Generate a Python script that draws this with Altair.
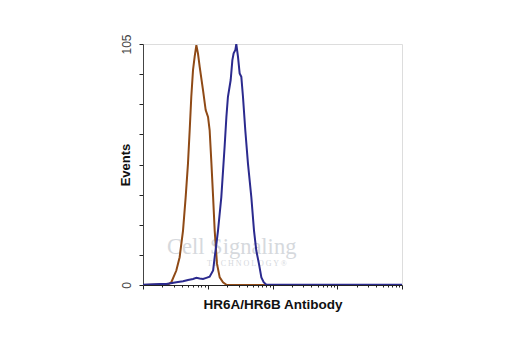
import altair as alt
import pandas as pd

# Isotype control (red/brown) histogram: fluorescence intensity vs events
red_x = [1.0, 2.0, 2.43, 2.74, 3.27, 3.68, 4.15, 4.56, 4.95, 5.26, 5.57, 5.92, 6.28, 6.67,
         7.06, 7.50, 8.45, 9.29, 10.1, 10.7, 11.4, 12.1, 12.8, 13.9, 15.3, 17.2, 19.4, 30.0, 10000.0]
red_y = [0.0, 0.2, 0.2, 1.2, 6.3, 12.1, 23.7, 38.3, 52.9, 67.4, 82.0, 93.6, 99.5, 104.5,
         100.9, 95.1, 84.9, 76.2, 73.2, 67.4, 52.9, 38.3, 23.7, 9.2, 3.3, 1.2, 0.1, 0.0, 0.0]

# HR6A/HR6B antibody (blue) histogram
blue_x = [1.0, 1.81, 2.29, 3.27, 4.15, 4.95, 5.92, 6.67, 7.50, 8.45, 9.51, 10.7, 12.1, 12.8,
          13.6, 14.4, 16.2, 18.2, 19.4, 20.5, 22.6, 24.0, 25.1, 26.7, 27.6, 29.3, 31.1, 33.0,
          35.0, 38.0, 41.8, 47.1, 51.8, 56.2, 61.8, 67.3, 73.1, 80.3, 10000.0]
blue_y = [0.1, 0.4, 0.4, 1.2, 1.6, 2.2, 2.6, 3.1, 2.8, 2.6, 3.1, 3.6, 6.3, 12.1,
          17.9, 23.7, 38.3, 60.1, 73.2, 82.0, 89.3, 98.0, 100.9, 102.4, 105.0, 99.5, 92.2, 90.7,
          82.0, 67.4, 52.9, 38.3, 23.7, 15.0, 9.2, 3.3, 1.2, 0.1, 0.1]

y_ticks = [0, 13.125, 26.25, 39.375, 52.5, 65.625, 78.75, 91.875, 105]
x_ticks = [m * d for d in [1, 10, 100, 1000] for m in range(1, 10)] + [10000]

series_names = ["Isotype", "HR6A/HR6B"]
series_colors = ["#8f4a16", "#2b2a8e"]

df = pd.concat([
    pd.DataFrame({"x": red_x, "y": red_y, "s": series_names[0], "o": 0}),
    pd.DataFrame({"x": blue_x, "y": blue_y, "s": series_names[1], "o": 1}),
])

FONT = "Liberation Sans"

x_enc = alt.X(
    "x:Q",
    scale=alt.Scale(type="log", domain=[1, 10000], nice=False),
    axis=alt.Axis(
        values=x_ticks, labels=False, grid=False,
        tickSize={"condition": {"test": "indexof([1,10,100,1000,10000], datum.value) >= 0", "value": 4}, "value": 2},
        tickColor="#222", domainColor="#222", tickWidth=1,
        title="HR6A/HR6B Antibody", titleFont=FONT, titleFontSize=13.5, titleFontWeight="bold",
        titleColor="#111", titleX=129.5, titleY=23, titleBaseline="alphabetic", titleAlign="center",
    ),
)
y_enc = alt.Y(
    "y:Q",
    scale=alt.Scale(domain=[0, 105], nice=False, zero=True),
    axis=alt.Axis(
        values=y_ticks, grid=False, tickSize=4, tickColor="#222", domainColor="#444",
        labelExpr="datum.value == 0 || datum.value == 105 ? datum.label : ''",
        labelAngle=270, labelAlign="center", labelBaseline="alphabetic", labelPadding=9,
        labelFont=FONT, labelFontSize=12, labelColor="#444",
        title="Events", titleFont=FONT, titleFontSize=13, titleFontWeight="bold", titleColor="#111",
        titleAngle=270, titleX=-14, titleY=120.5, titleAlign="center", titleBaseline="alphabetic",
    ),
)

lines = alt.Chart(df).mark_line(strokeWidth=2, clip=True, interpolate="linear").encode(
    x=x_enc,
    y=y_enc,
    color=alt.Color("s:N", scale=alt.Scale(domain=series_names, range=series_colors), legend=None),
    order="o:Q",
    detail="s:N",
)

wm = alt.Chart(pd.DataFrame({"t": ["Cell Signaling"]})).mark_text(
    font="Liberation Serif", fontSize=22.5, color="#d6d9dd", align="left", baseline="alphabetic"
).encode(text="t:N", x=alt.value(24), y=alt.value(210))
wm2 = alt.Chart(pd.DataFrame({"t": ["T E C H N O L O G Y ®"]})).mark_text(
    font="Liberation Serif", fontSize=8, color="#d6d9dd", align="left", baseline="alphabetic"
).encode(text="t:N", x=alt.value(64), y=alt.value(222))

chart = alt.layer(wm, wm2, lines).properties(
    width=259, height=241,
    autosize=alt.AutoSizeParams(type="none"),
    padding={"left": 143, "top": 44, "right": 118, "bottom": 65},
).configure_view(stroke="#777", strokeWidth=1).configure(background="white")

chart.save("out.html", embed_options={"renderer": "svg", "actions": False})
